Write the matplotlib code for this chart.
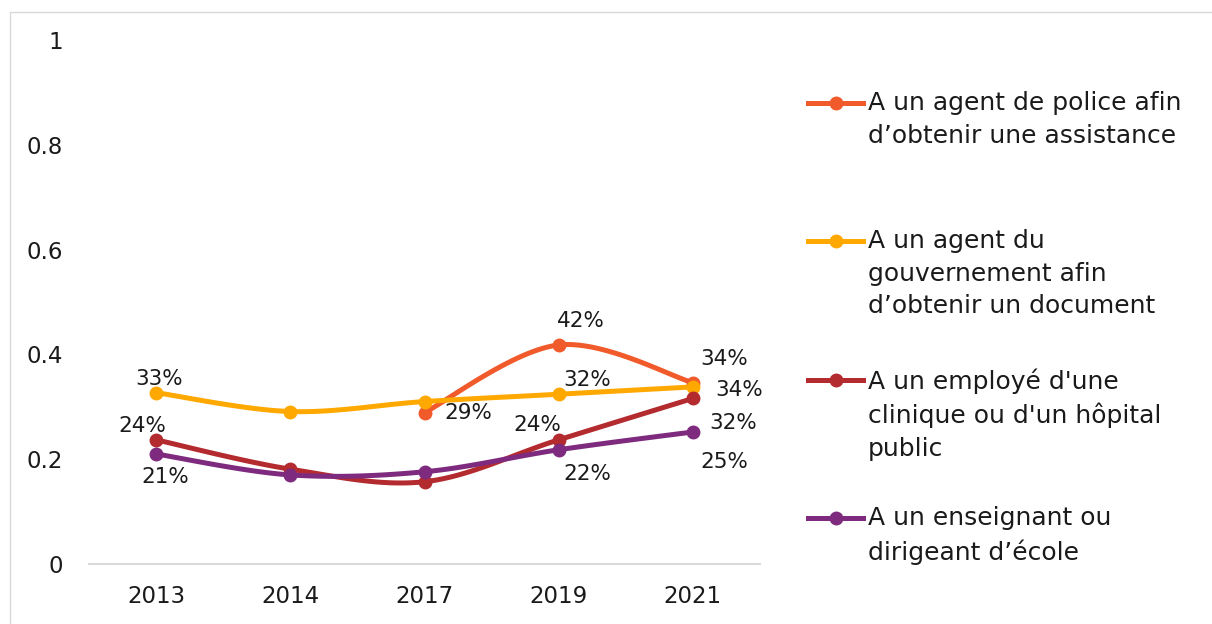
import numpy as np
import matplotlib
matplotlib.use('Agg')
import matplotlib.pyplot as plt
from matplotlib.lines import Line2D
from matplotlib.patches import Rectangle

plt.rcParams['font.family'] = ['DejaVu Sans']

# données
annees = ['2013', '2014', '2017', '2019', '2021']
police = [np.nan, np.nan, 0.289, 0.418, 0.346]
gouvernement = [0.327, 0.291, 0.31, 0.324, 0.338]
clinique = [0.237, 0.181, 0.157, 0.237, 0.316]
enseignant = [0.21, 0.17, 0.176, 0.218, 0.252]

noms = ["A un agent de police afin\nd\u2019obtenir une assistance",
        "A un agent du\ngouvernement afin\nd\u2019obtenir un document",
        "A un employé d'une\nclinique ou d'un hôpital\npublic",
        "A un enseignant ou\ndirigeant d\u2019école"]
couleurs = ['#F15A2B', '#FFA800', '#B32A2F', '#7E2A7E']

# étiquettes affichées : (série, index, texte, décalage en pixels)
etiquettes = [
    (0, 2, '29%', (44, 0)), (0, 3, '42%', (22, 24)), (0, 4, '34%', (31, 24)),
    (1, 0, '33%', (3, 14)), (1, 3, '32%', (28, 14)), (1, 4, '34%', (46, -3)),
    (2, 0, '24%', (-14, 14)), (2, 3, '24%', (-21, 15)), (2, 4, '32%', (40, -25)),
    (3, 0, '21%', (9, -23)), (3, 3, '22%', (29, -24)), (3, 4, '25%', (31, -30)),
]


def lisser(x, y, n=30):
    # courbe lissée type Excel (Bézier / Catmull-Rom)
    x = np.asarray(x, float)
    y = np.asarray(y, float)
    px, py = [], []
    for i in range(len(x) - 1):
        x0, y0 = (x[i - 1], y[i - 1]) if i > 0 else (x[i], y[i])
        x3, y3 = (x[i + 2], y[i + 2]) if i + 2 < len(x) else (x[i + 1], y[i + 1])
        c1x = x[i] + (x[i + 1] - x0) / 6
        c1y = y[i] + (y[i + 1] - y0) / 6
        c2x = x[i + 1] - (x3 - x[i]) / 6
        c2y = y[i + 1] - (y3 - y[i]) / 6
        t = np.linspace(0, 1, n)
        bx = (1-t)**3*x[i] + 3*(1-t)**2*t*c1x + 3*(1-t)*t**2*c2x + t**3*x[i+1]
        by = (1-t)**3*y[i] + 3*(1-t)**2*t*c1y + 3*(1-t)*t**2*c2y + t**3*y[i+1]
        px.extend(bx)
        py.extend(by)
    return px, py


fig = plt.figure(figsize=(12.12, 6.24), dpi=100)
ax = fig.add_axes([89/1212, 60/624, 671/1212, 524/624])

series = [police, gouvernement, clinique, enseignant]
xs = np.arange(len(annees))
for vals, c in zip(series, couleurs):
    v = np.array(vals, float)
    ok = ~np.isnan(v)
    sx, sy = lisser(xs[ok], v[ok])
    ax.plot(sx, sy, color=c, lw=3.6, solid_capstyle='round', zorder=3)
    ax.plot(xs[ok], v[ok], 'o', color=c, ms=9, zorder=4)

for s, i, txt, off in etiquettes:
    ax.annotate(txt, (xs[i], series[s][i]), xytext=off, textcoords='offset pixels',
                ha='center', va='center', fontsize=15.5, color='#1a1a1a', zorder=5)

ax.set_xlim(-0.5, 4.5)
ax.set_ylim(0, 1)
ax.set_xticks(xs)
ax.set_xticklabels(annees)
ax.set_yticks([0, 0.2, 0.4, 0.6, 0.8, 1])
ax.set_yticklabels(['0', '0.2', '0.4', '0.6', '0.8', '1'])
ax.tick_params(length=0, labelsize=16.5, labelcolor='#1a1a1a')
ax.tick_params(axis='y', pad=19)
ax.tick_params(axis='x', pad=15)
for sp in ['top', 'right', 'left']:
    ax.spines[sp].set_visible(False)
ax.spines['bottom'].set_color('#d9d9d9')
ax.spines['bottom'].set_linewidth(1.5)

# légende à droite
W, H = 1212, 624
ys_leg = [103, 241, 380, 518]
for nom, c, yl in zip(noms, couleurs, ys_leg):
    fy = 1 - yl / H
    fig.add_artist(Line2D([808/W, 863/W], [fy, fy], color=c, lw=3.6,
                          transform=fig.transFigure))
    fig.add_artist(Line2D([836/W], [fy], marker='o', color=c, ms=9,
                          transform=fig.transFigure))
    fig.text(868/W, fy + 12/H, nom, ha='left', va='top', fontsize=18,
             color='#1a1a1a', linespacing=1.45)

# cadre du graphique
fig.add_artist(Rectangle((10/W, -0.1), 1.2, 1.1 - 12/H, fill=False,
                         edgecolor='#d9d9d9', lw=1, transform=fig.transFigure))

fig.savefig('out.png', dpi=100)
